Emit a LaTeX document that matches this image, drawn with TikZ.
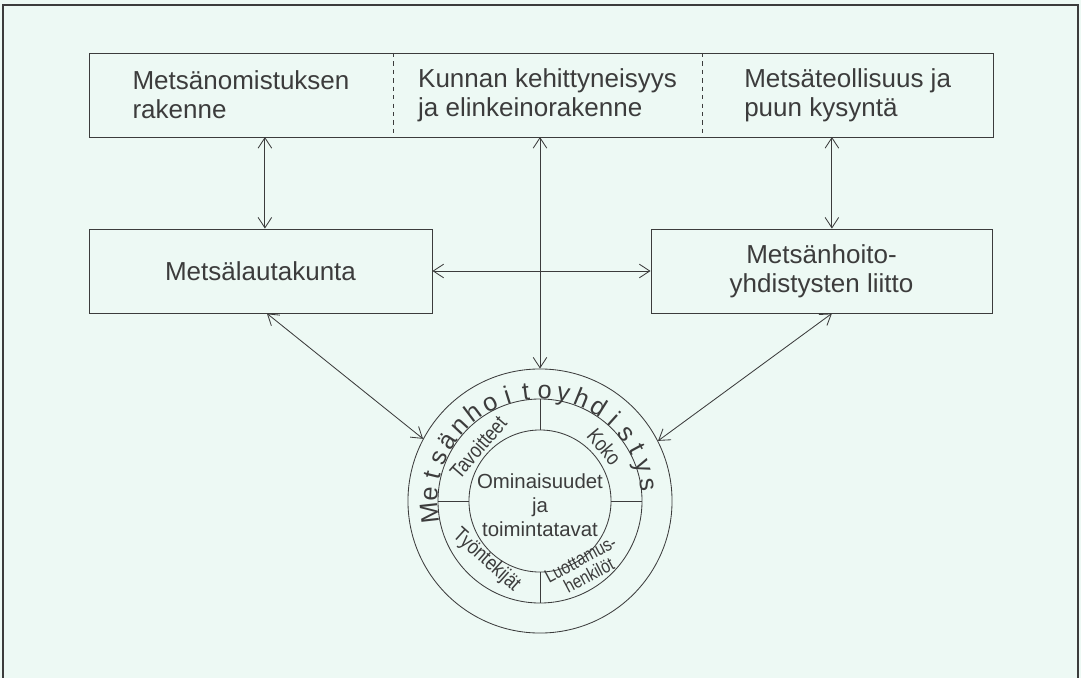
\documentclass[tikz,border=0pt]{standalone}
\usepackage{fontspec}
\setmainfont{Liberation Sans}
\usepackage{tikz}
\usetikzlibrary{arrows.meta, calc, positioning}
\definecolor{paper}{HTML}{EDF9F4}
\definecolor{ink}{HTML}{3C3C3C}

\begin{document}
\begin{tikzpicture}[x=0.025cm, y=-0.025cm, color=ink, line width=0.6pt,
    part/.style={rectangle, inner sep=0pt, outer sep=0pt, minimum height=2.1cm,
      align=left, font=\fontsize{18.5}{20.6}\selectfont},
    box/.style={draw, rectangle, inner sep=0pt, minimum height=2.1cm,
      align=center, font=\fontsize{18.5}{20.6}\selectfont},
    disc/.style={draw, circle, inner sep=0pt},
    ringlabel/.style={rotate=#1, xscale=0.82, inner sep=0pt, align=center,
      font=\fontsize{15}{14}\selectfont},
    link/.style={{Straight Barb[length=2.6mm, width=3.4mm]}-{Straight Barb[length=2.6mm, width=3.4mm]}}]
      \fill[paper] (0,0) rectangle (1081,678);
      \useasboundingbox (0,0) rectangle (1081,678);
      \draw[line width=1.2pt] (3,678) -- (3,5) -- (1078,5) -- (1078,678);

      % top row
      \node[part, minimum width=7.6cm]
        (T1) at (241,95) {Metsänomistuksen\\rakenne};
      \node[part, minimum width=7.725cm, right=0pt of T1]
        (T2) {Kunnan kehittyneisyys\\ja elinkeinorakenne};
      \node[part, minimum width=7.275cm, right=0pt of T2]
        (T3) {Metsäteollisuus ja\\puun kysyntä};
      \draw (T1.north west) rectangle (T3.south east);
      \draw[dashed, line width=0.4pt] (T1.north east) -- (T1.south east);
      \draw[dashed, line width=0.4pt] (T2.north east) -- (T2.south east);

      % middle row
      \node[box, minimum width=8.575cm]
        (LB) at (260.5,271) {Metsälautakunta};
      \node[box, minimum width=8.525cm]
        (RB) at (821.5,271) {Metsänhoito-\\yhdistysten liitto};

      % the association
      \node[disc, minimum size=6.6cm] (ring) at (540,501) {};
      \node[disc, minimum size=5.1cm] (mid) at (ring) {};
      \node[disc, minimum size=3.55cm] (core) at (ring) {};
      \node[align=center, inner sep=0pt, font=\fontsize{14.5}{17}\selectfont]
        (coretext) at ([yshift=-0.1cm]core.center) {Ominaisuudet\\ja\\toimintatavat};
      \foreach \a in {0,90,180,270}
        \draw (core.\a) -- (mid.\a);
      \foreach \c [count=\i from 0, evaluate=\i as \ang using 186.3-9.88*\i]
          in {M,e,t,s,ä,n,h,o,i,t,o,y,h,d,i,s,t,y,s}
        \node[anchor=base, inner sep=0pt, rotate=\ang-90, font=\fontsize{18}{18}\selectfont]
          (m\i) at ($(ring.center)+(\ang:2.55cm)$) {\c};
      \node[ringlabel=49] (tav) at ($(ring.center)+(139:2.05cm)$) {Tavoitteet};
      \node[ringlabel=-50] (koko) at ($(ring.center)+(40:2.1cm)$) {Koko};
      \node[ringlabel=-42] (tyo) at ($(ring.center)+(228:2.0cm)$) {Työntekijät};
      \node[ringlabel=28, font=\fontsize{13.5}{13}\selectfont]
        (luot) at ($(ring.center)+(304:2.0cm)$) {Luottamus-\\henkilöt};

      % connectors
      \draw[link] ([xshift=0.11cm]LB.north) -- ([xshift=0.11cm]LB.north |- T1.south);
      \draw[link] (ring.north) -- (ring.north |- T2.south);
      \draw[link] ([xshift=0.26cm]RB.north) -- ([xshift=0.26cm]RB.north |- T3.south);
      \draw[link] (LB.east) -- (RB.west);
      \draw[link] ([xshift=0.16cm]LB.south) -- (ring.152);
      \draw[link] ([xshift=0.26cm]RB.south) -- (ring.27);
\end{tikzpicture}
\end{document}
